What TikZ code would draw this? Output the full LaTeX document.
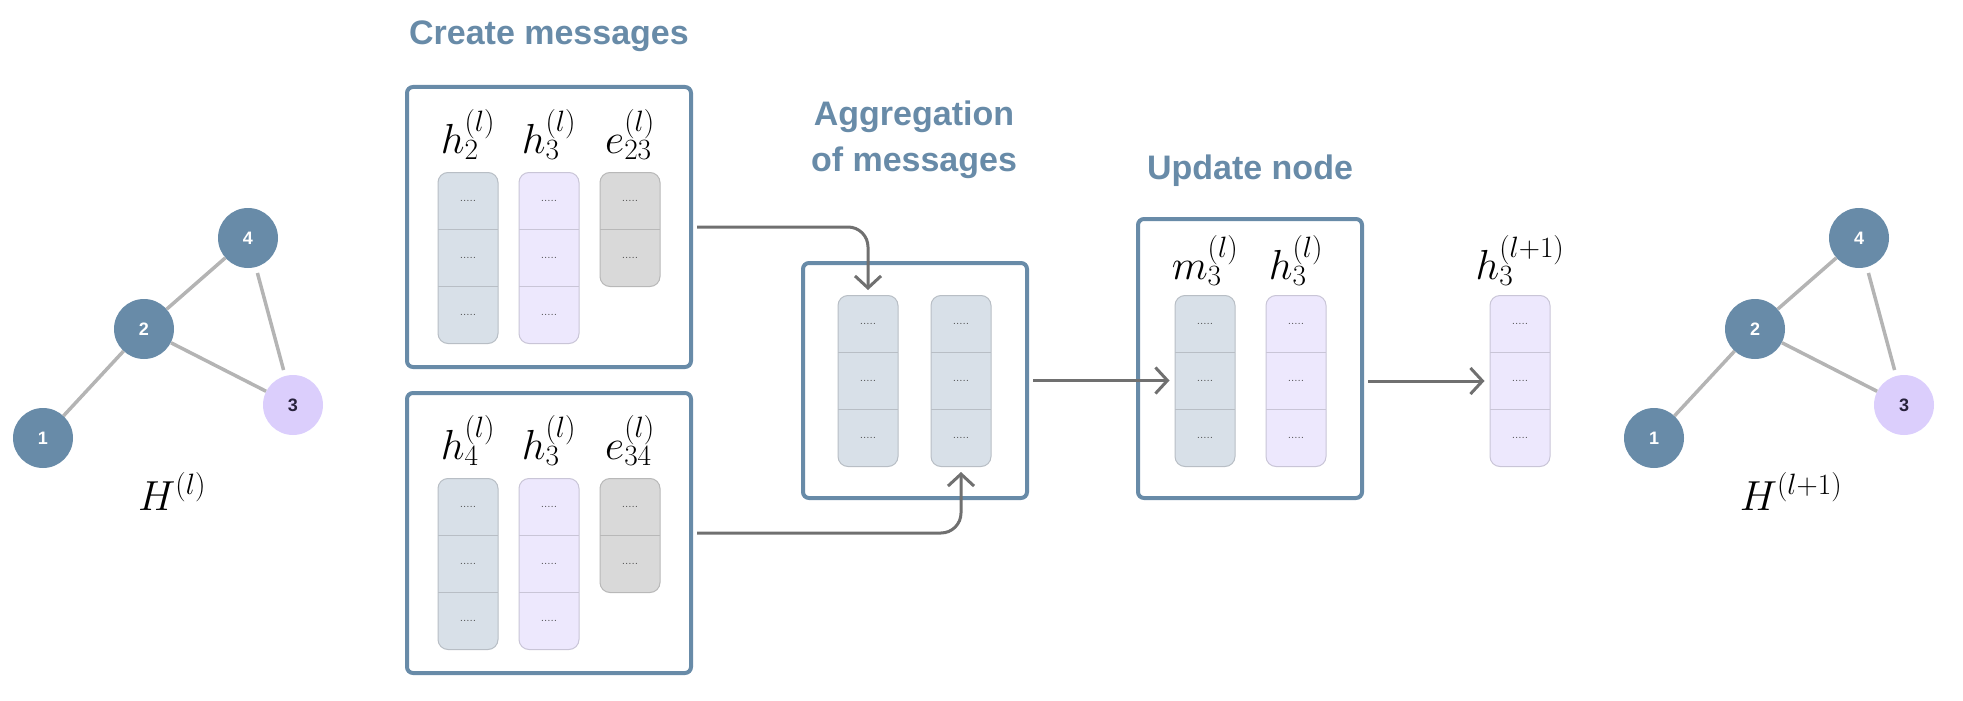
\RequirePackage{fix-cm}
\documentclass[tikz,border=0pt]{standalone}
\usepackage{fontspec}
\newfontfamily\titlefont{Liberation Sans}
\usetikzlibrary{arrows.meta,positioning}

\definecolor{steel}{RGB}{104,139,168}
\definecolor{lilac}{RGB}{219,206,252}
\definecolor{ink}{RGB}{40,34,60}
\definecolor{cellblue}{RGB}{216,224,232}
\definecolor{celllilac}{RGB}{237,232,253}
\definecolor{cellgrey}{RGB}{217,217,217}
\definecolor{edgegrey}{RGB}{180,180,180}
\definecolor{arrowgrey}{RGB}{112,112,112}

\tikzset{
  gnode/.style={circle,fill=steel,minimum size=60pt,inner sep=0pt,text=white,
    font=\titlefont\bfseries\fontsize{18}{18}\selectfont},
  gedge/.style={draw=edgegrey,line width=3.5pt,shorten <=6pt,shorten >=6pt},
  stage/.style={draw=steel,line width=4pt,rounded corners=6pt,fill=white,inner sep=0pt},
  title/.style={text=steel,align=center,font=\titlefont\bfseries\fontsize{34}{46}\selectfont},
  col/.style={rounded corners=10pt,minimum width=60pt,inner sep=0pt,line width=1pt,anchor=north},
  dots/.style={inner sep=0pt,text=black!75,font=\fontsize{12}{12}\selectfont},
  vlabel/.style={inner sep=0pt,font=\fontsize{42}{42}\selectfont},
  flow/.style={draw=arrowgrey,line width=3pt,rounded corners=20pt,
    -{Straight Barb[length=12pt,width=26pt]},shorten <=4pt,shorten >=5pt}
}

% column of cells: name, x, top, cells, colour
\newcommand{\veccol}[5]{%
  \node[col,fill=#5,draw=#5!85!black,minimum height=#4*57pt] (#1) at (#2,#3) {};
  \foreach \k in {1,...,#4}{
    \node[dots] at (#2,{#3+(\k-0.5)*57}) {.....};
  }
  \foreach \k in {2,...,#4}{
    \draw[draw=#5!85!black,line width=1pt] ({#2-30},{#3+(\k-1)*57}) -- ({#2+30},{#3+(\k-1)*57});
  }
}

\begin{document}
\begin{tikzpicture}[x=1pt,y=-1pt]
\useasboundingbox (0,0) rectangle (1963,701);

% graphs
\foreach \g/\dx/\lx/\lab in {a/0/172/{H^{(l)}},b/1611/1791/{H^{(l+1)}}}{
  \node[gnode] (\g1) at (43+\dx,438) {1};
  \node[gnode] (\g2) at (144+\dx,329) {2};
  \node[gnode] (\g4) at (248+\dx,238) {4};
  \node[gnode,fill=lilac,text=ink] (\g3) at (293+\dx,405) {3};
  \draw[gedge] (\g1) -- (\g2) (\g2) -- (\g4) (\g2) -- (\g3) (\g4) -- (\g3);
  \node[vlabel,anchor=base] at (\lx,510) {$\lab$};
}

% stages
\node[stage,minimum width=284pt,minimum height=280pt] (msgA) at (549,227) {};
\node[stage,minimum width=284pt,minimum height=280pt] (msgB) at (549,533) {};
\node[stage,minimum width=224pt,minimum height=235pt] (agg) at (915,380.5) {};
\node[stage,minimum width=224pt,minimum height=279pt] (upd) at (1250,358.5) {};

\node[title,anchor=base] (tmsg) at (549,45) {Create messages};
\node[title] (tagg) at (914,140) {Aggregation\\of messages};
\node[title,anchor=base] (tupd) at (1250,179) {Update node};

% vectors
\veccol{h2a}{468}{172}{3}{cellblue}
\veccol{h3a}{549}{172}{3}{celllilac}
\veccol{e23}{630}{172}{2}{cellgrey}
\veccol{h4b}{468}{478}{3}{cellblue}
\veccol{h3b}{549}{478}{3}{celllilac}
\veccol{e34}{630}{478}{2}{cellgrey}
\veccol{aggA}{868}{295}{3}{cellblue}
\veccol{aggB}{961}{295}{3}{cellblue}
\veccol{m3}{1205}{295}{3}{cellblue}
\veccol{h3u}{1296}{295}{3}{celllilac}
\veccol{out}{1520}{295}{3}{celllilac}

\node[vlabel,above=12pt of h2a] (lh2a) {$h_2^{(l)}$};
\node[vlabel,above=12pt of h3a] (lh3a) {$h_3^{(l)}$};
\node[vlabel,above=12pt of e23] (le23) {$e_{23}^{(l)}$};
\node[vlabel,above=12pt of h4b] (lh4b) {$h_4^{(l)}$};
\node[vlabel,above=12pt of h3b] (lh3b) {$h_3^{(l)}$};
\node[vlabel,above=12pt of e34] (le34) {$e_{34}^{(l)}$};
\node[vlabel,above=9pt of m3] (lm3) {$m_3^{(l)}$};
\node[vlabel,above=9pt of h3u] (lh3u) {$h_3^{(l)}$};
\node[vlabel,above=9pt of out] (lout) {$h_3^{(l+1)}$};

% flows
\draw[flow] (msgA.east) -| (aggA.north);
\draw[flow] (msgB.east) -| (aggB.south);
\draw[flow] (agg.east) -- (agg.east -| m3.west);
\draw[flow] (upd.east |- out.west) -- (out.west);
\end{tikzpicture}
\end{document}
